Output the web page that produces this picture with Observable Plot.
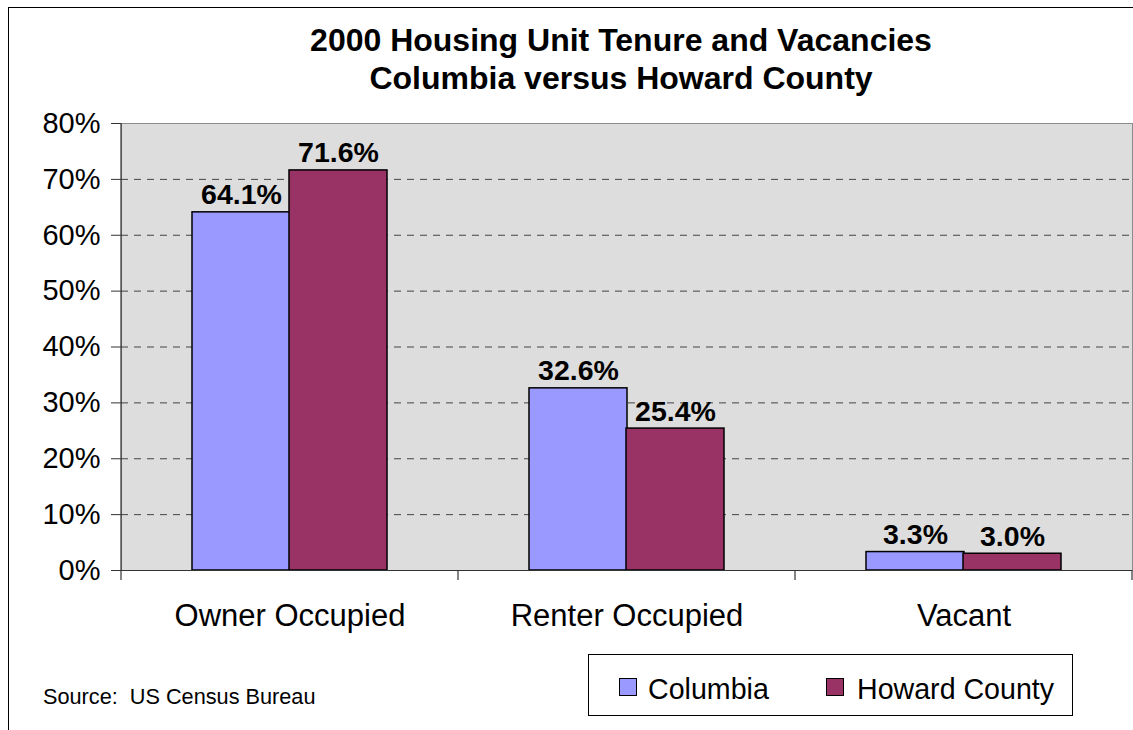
<!DOCTYPE html>
<html><head><meta charset="utf-8">
<script src="https://cdn.jsdelivr.net/npm/d3@7"></script>
<script src="https://cdn.jsdelivr.net/npm/@observablehq/plot@0.6"></script>
<style>
body{margin:0;background:#fff;font-family:Arial,"Liberation Sans",sans-serif;}
#wrap{position:relative;width:1133px;height:730px;overflow:hidden;background:#fff;}
#frame{position:absolute;left:8px;top:7px;width:1300px;height:900px;border-left:1px solid #000;border-top:1px solid #000;}
#chart{position:absolute;left:0;top:0;}
#title{position:absolute;left:121px;width:1000px;top:21px;text-align:center;font-weight:bold;font-size:32px;line-height:38px;color:#000;}
#legend{position:absolute;left:588px;top:654px;width:485px;height:62px;border:1px solid #000;box-sizing:border-box;background:#fff;}
.sw{position:absolute;top:23px;width:18px;height:18px;border:1.5px solid #000;box-sizing:border-box;}
.lt{position:absolute;top:20px;font-size:28.6px;line-height:28px;white-space:nowrap;color:#000;}
#source{position:absolute;left:43px;top:686px;font-size:21.7px;line-height:21px;white-space:pre;color:#000;}
</style></head><body>
<div id="wrap">
  <div id="frame"></div>
  <div id="chart"></div>
  <div id="title"></div>
  <div id="legend"></div>
  <div id="source"></div>
</div>
<script>
const titleLines = ["2000 Housing Unit Tenure and Vacancies", "Columbia versus Howard County"];
const categories = ["Owner Occupied", "Renter Occupied", "Vacant"];
const seriesNames = ["Columbia", "Howard County"];
const columbia = [64.1, 32.6, 3.3];
const howard = [71.6, 25.4, 3.0];
const yTicks = [0, 10, 20, 30, 40, 50, 60, 70, 80];
const colors = ["#9999FF", "#993366"];
const sourceText = "Source:  US Census Bureau";

const rows = categories.flatMap((c, i) => [
  {cat: c, series: seriesNames[0], v: columbia[i]},
  {cat: c, series: seriesNames[1], v: howard[i]}
]);
const rowsA = rows.filter(d => d.series === seriesNames[0]);
const rowsB = rows.filter(d => d.series === seriesNames[1]);
const fmt = d => d.v.toFixed(1) + "%";

const plot = Plot.plot({
  width: 1133, height: 730,
  marginLeft: 121, marginRight: 1, marginTop: 123, marginBottom: 160,
  x: {domain: categories, padding: 0},
  y: {domain: [0, 80]},
  style: {fontFamily: "Arial, 'Liberation Sans', sans-serif", background: "transparent", overflow: "visible", color: "#000"},
  marks: [
    Plot.frame({fill: "#dddddd", stroke: "#8c8c8c"}),
    Plot.ruleY(yTicks.filter(t => t > 0 && t < 80), {stroke: "#444", strokeDasharray: "7,6"}),
    Plot.barY(rowsA, {x: "cat", y: "v", fill: colors[0], stroke: "#000", strokeWidth: 1.5, insetLeft: 71, insetRight: 168}),
    Plot.barY(rowsB, {x: "cat", y: "v", fill: colors[1], stroke: "#000", strokeWidth: 1.5, insetLeft: 168, insetRight: 71}),
    Plot.ruleY([0], {stroke: "#333"}),
    Plot.axisY({ticks: yTicks, tickFormat: d => d + "%", tickSize: 10, tickPadding: 11, fontSize: 29, stroke: "#333", label: null}),
    Plot.axisX({tickSize: 0, tickPadding: 33, fontSize: 31, label: null}),
    Plot.text(rowsA, {x: "cat", y: "v", text: fmt, dx: -48.5, dy: -8, lineAnchor: "bottom", fontSize: 28.5, fontWeight: "bold", fill: "#000"}),
    Plot.text(rowsB, {x: "cat", y: "v", text: fmt, dx: 48.5, dy: -8, lineAnchor: "bottom", fontSize: 28.5, fontWeight: "bold", fill: "#000"})
  ]
});
document.getElementById("chart").appendChild(plot);

// axis line on left and category boundary ticks, from the plot's scales
const xs = plot.scale("x"), ys = plot.scale("y");
const [r0, r1] = xs.range;
const step = (r1 - r0) / categories.length;
const y0 = ys.apply(0), yTop = ys.apply(80);
const g = d3.select(plot).append("g").attr("stroke", "#333").attr("stroke-width", 1.2);
g.append("line").attr("x1", r0).attr("x2", r0).attr("y1", yTop).attr("y2", y0 + 10);
for (let i = 1; i <= categories.length; i++) {
  g.append("line").attr("x1", r0 + i * step).attr("x2", r0 + i * step).attr("y1", y0).attr("y2", y0 + 10);
}

document.getElementById("title").innerHTML = titleLines.join("<br>");
document.getElementById("source").textContent = sourceText;
const leg = document.getElementById("legend");
const swX = [30, 237], txX = [59, 268];
seriesNames.forEach((s, i) => {
  const sw = document.createElement("div");
  sw.className = "sw"; sw.style.left = swX[i] + "px"; sw.style.background = colors[i];
  leg.appendChild(sw);
  const t = document.createElement("div");
  t.className = "lt"; t.style.left = txX[i] + "px"; t.textContent = s;
  leg.appendChild(t);
});
</script>
</body></html>
